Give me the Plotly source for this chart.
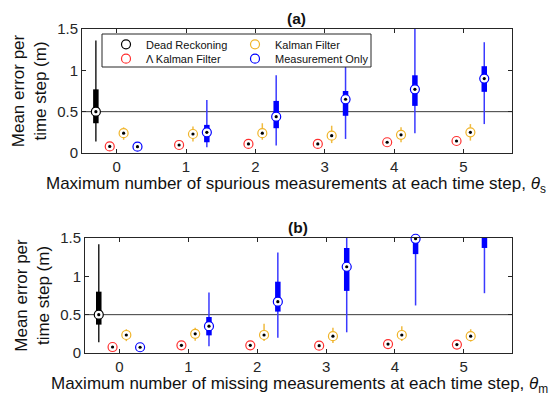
import plotly.graph_objects as go
from plotly.subplots import make_subplots

# ---------------- data ----------------
groups = [0, 1, 2, 3, 4, 5]
tick_labels = ["0", "1", "2", "3", "4", "5"]
y_ticks = [0, 0.5, 1, 1.5]
y_tick_labels = ["0", "0.5", "1", "1.5"]
series_names = ["Dead Reckoning", "\u039b Kalman Filter", "Kalman Filter", "Measurement Only"]
x_title_a = "Maximum number of spurious measurements at each time step, <i>\u03b8</i><sub>s</sub>"
x_title_b = "Maximum number of missing measurements at each time step, <i>\u03b8</i><sub>m</sub>"
y_title = "Mean error per<br>time step (m)"

# (a) spurious measurements
a_dr_lo = [0.14]; a_dr_q1 = [0.36]; a_dr_med = [0.50]; a_dr_q3 = [0.77]; a_dr_hi = [1.36]
a_lkf_lo = [0.065, 0.08, 0.09, 0.09, 0.105, 0.12]
a_lkf_q1 = [0.07, 0.087, 0.10, 0.10, 0.12, 0.13]
a_lkf_med = [0.08, 0.097, 0.11, 0.11, 0.13, 0.145]
a_lkf_q3 = [0.09, 0.107, 0.12, 0.12, 0.14, 0.16]
a_lkf_hi = [0.10, 0.12, 0.14, 0.14, 0.16, 0.20]
a_kf_lo = [0.16, 0.14, 0.16, 0.12, 0.13, 0.15]
a_kf_q1 = [0.21, 0.20, 0.21, 0.18, 0.19, 0.22]
a_kf_med = [0.24, 0.23, 0.24, 0.21, 0.22, 0.25]
a_kf_q3 = [0.27, 0.26, 0.27, 0.24, 0.25, 0.28]
a_kf_hi = [0.31, 0.32, 0.36, 0.33, 0.31, 0.35]
a_mo_lo = [0.06, 0.07, 0.09, 0.17, 0.24, 0.35]
a_mo_q1 = [0.065, 0.13, 0.30, 0.45, 0.57, 0.74]
a_mo_med = [0.076, 0.25, 0.44, 0.65, 0.77, 0.90]
a_mo_q3 = [0.085, 0.34, 0.63, 0.75, 0.94, 1.05]
a_mo_hi = [0.09, 0.64, 0.94, 1.15, 1.60, 1.34]

# (b) missing measurements
b_dr_lo = [0.14]; b_dr_q1 = [0.37]; b_dr_med = [0.50]; b_dr_q3 = [0.80]; b_dr_hi = [1.42]
b_lkf_lo = [0.065, 0.085, 0.085, 0.08, 0.10, 0.095]
b_lkf_q1 = [0.07, 0.09, 0.09, 0.087, 0.107, 0.10]
b_lkf_med = [0.078, 0.10, 0.10, 0.095, 0.117, 0.11]
b_lkf_q3 = [0.087, 0.11, 0.11, 0.105, 0.127, 0.12]
b_lkf_hi = [0.095, 0.12, 0.12, 0.115, 0.14, 0.13]
b_kf_lo = [0.155, 0.16, 0.155, 0.13, 0.155, 0.15]
b_kf_q1 = [0.21, 0.22, 0.21, 0.19, 0.21, 0.19]
b_kf_med = [0.235, 0.25, 0.235, 0.22, 0.235, 0.22]
b_kf_q3 = [0.26, 0.28, 0.26, 0.25, 0.26, 0.25]
b_kf_hi = [0.31, 0.33, 0.38, 0.33, 0.35, 0.31]
b_mo_lo = [0.06, 0.087, 0.20, 0.27, 0.62, 0.78]
b_mo_q1 = [0.065, 0.23, 0.54, 0.81, 1.29, 1.37]
b_mo_med = [0.075, 0.35, 0.67, 1.125, 1.49, 1.70]
b_mo_q3 = [0.085, 0.47, 0.93, 1.37, 1.70, 2.00]
b_mo_hi = [0.09, 0.79, 1.31, 1.70, 2.00, 2.30]

# ---------------- style ----------------
offsets = [-0.3, -0.1, 0.1, 0.3]
colors = ["#000000", "#ff3030", "#f0b429", "#0000ff"]
whisker_colors = ["#222222", "#ff5050", "#f0bb40", "#3a3aff"]
FONT = "Liberation Sans, Arial, sans-serif"
AX = "#262626"
W, H = 556, 398
ML, MR, MT, MB = 82, 44, 29, 45
PW, PH = W - ML - MR, H - MT - MB

def px_x(p):
    return (p - ML) / PW

def px_y(p):
    return (H - MB - p) / PH

fig = make_subplots(rows=2, cols=1)
fig.update_layout(
    width=W, height=H,
    margin=dict(l=ML, r=MR, t=MT, b=MB, autoexpand=False),
    plot_bgcolor="white", paper_bgcolor="white",
    font=dict(family=FONT, color=AX),
    xaxis=dict(domain=[0, 1]), xaxis2=dict(domain=[px_x(85), 1]),
    yaxis=dict(domain=[px_y(153), 1]), yaxis2=dict(domain=[0, px_y(238)]),
)

legend_ids = ["legend", "legend2", "legend3", "legend4"]

def add_series(row, k, grp, lo, q1, med, q3, hi, show_legend=False):
    xs = [g + offsets[k] for g in grp]
    wx, wy, bx, by = [], [], [], []
    for x, a, b, c, d in zip(xs, lo, q1, q3, hi):
        wx += [x, x, None]; wy += [a, d, None]
        bx += [x, x, None]; by += [b, c, None]
    fig.add_trace(go.Scatter(x=wx, y=wy, mode="lines", showlegend=False, hoverinfo="skip",
                             line=dict(color=whisker_colors[k], width=1.5)), row=row, col=1)
    fig.add_trace(go.Scatter(x=bx, y=by, mode="lines", showlegend=False, hoverinfo="skip",
                             line=dict(color=colors[k], width=5.5)), row=row, col=1)
    fig.add_trace(go.Scatter(x=xs, y=med, mode="markers", cliponaxis=False,
                             name=series_names[k], showlegend=show_legend,
                             legend=legend_ids[k],
                             marker=dict(symbol="circle", size=9, color="white",
                                         line=dict(color=colors[k], width=1.2))), row=row, col=1)
    fig.add_trace(go.Scatter(x=xs, y=med, mode="markers", cliponaxis=False, showlegend=False,
                             hoverinfo="skip",
                             marker=dict(symbol="circle", size=3.2, color="black")), row=row, col=1)

# (a)
add_series(1, 0, [groups[0]], a_dr_lo, a_dr_q1, a_dr_med, a_dr_q3, a_dr_hi, True)
add_series(1, 1, groups, a_lkf_lo, a_lkf_q1, a_lkf_med, a_lkf_q3, a_lkf_hi, True)
add_series(1, 2, groups, a_kf_lo, a_kf_q1, a_kf_med, a_kf_q3, a_kf_hi, True)
add_series(1, 3, groups, a_mo_lo, a_mo_q1, a_mo_med, a_mo_q3, a_mo_hi, True)
# (b)
add_series(2, 0, [groups[0]], b_dr_lo, b_dr_q1, b_dr_med, b_dr_q3, b_dr_hi)
add_series(2, 1, groups, b_lkf_lo, b_lkf_q1, b_lkf_med, b_lkf_q3, b_lkf_hi)
add_series(2, 2, groups, b_kf_lo, b_kf_q1, b_kf_med, b_kf_q3, b_kf_hi)
add_series(2, 3, groups, b_mo_lo, b_mo_q1, b_mo_med, b_mo_q3, b_mo_hi)

# reference line at 0.5
for xr, yr in (("x domain", "y"), ("x2 domain", "y2")):
    fig.add_shape(type="line", xref=xr, yref=yr, x0=0, x1=1, y0=0.5, y1=0.5,
                  line=dict(color="#3a3a3a", width=1), layer="below")

axis_common = dict(range=[-0.5, 5.7], tickvals=groups, ticktext=tick_labels,
                   showline=True, mirror="ticks", linecolor=AX, linewidth=1,
                   ticks="inside", ticklen=4, tickcolor=AX, showgrid=False, zeroline=False,
                   tickfont=dict(size=15, color=AX, family=FONT))
yaxis_common = dict(range=[0, 1.5], tickvals=y_ticks, ticktext=y_tick_labels,
                    showline=True, mirror="ticks", linecolor=AX, linewidth=1,
                    ticks="inside", ticklen=4, tickcolor=AX, showgrid=False, zeroline=False,
                    tickfont=dict(size=15, color=AX, family=FONT),
                    title=dict(text=y_title,
                               font=dict(size=17, color="#111", family=FONT), standoff=6))
fig.update_xaxes(**axis_common)
fig.update_yaxes(**yaxis_common)

# x-axis titles sit tight under the tick labels, as in the reference
fig.add_annotation(text=x_title_a, xref="paper", yref="paper", x=px_x(296), y=px_y(184.5),
                   xanchor="center", yanchor="middle", showarrow=False,
                   font=dict(size=17, color="#111", family=FONT))
fig.add_annotation(text=x_title_b, xref="paper", yref="paper", x=px_x(299), y=px_y(385),
                   xanchor="center", yanchor="middle", showarrow=False,
                   font=dict(size=17, color="#111", family=FONT))

# legend box (white, covering the data like the reference)
fig.add_shape(type="rect", xref="paper", yref="paper",
              x0=px_x(102), x1=px_x(371), y0=px_y(67), y1=px_y(34),
              line=dict(color=AX, width=1), fillcolor="white", layer="above")
legend_common = dict(bgcolor="rgba(0,0,0,0)", borderwidth=0,
                     font=dict(size=11, color="#111", family=FONT),
                     orientation="v", xanchor="left", yanchor="middle", itemwidth=30)
col_x = [px_x(106), px_x(235)]
row_y = [px_y(44.3), px_y(58.7)]
fig.update_layout(
    legend=dict(x=col_x[0], y=row_y[0], **legend_common),
    legend2=dict(x=col_x[0], y=row_y[1], **legend_common),
    legend3=dict(x=col_x[1], y=row_y[0], **legend_common),
    legend4=dict(x=col_x[1], y=row_y[1], **legend_common),
)

fig.add_annotation(text="<b>(a)</b>", xref="paper", yref="paper", x=px_x(296), y=px_y(18),
                   xanchor="center", yanchor="middle", showarrow=False,
                   font=dict(size=15.5, color="#111", family=FONT))
fig.add_annotation(text="<b>(b)</b>", xref="paper", yref="paper", x=px_x(298), y=px_y(227),
                   xanchor="center", yanchor="middle", showarrow=False,
                   font=dict(size=15.5, color="#111", family=FONT))

fig.write_html("out.html", config={"displayModeBar": False},
               post_script="document.body.style.margin='0';")
